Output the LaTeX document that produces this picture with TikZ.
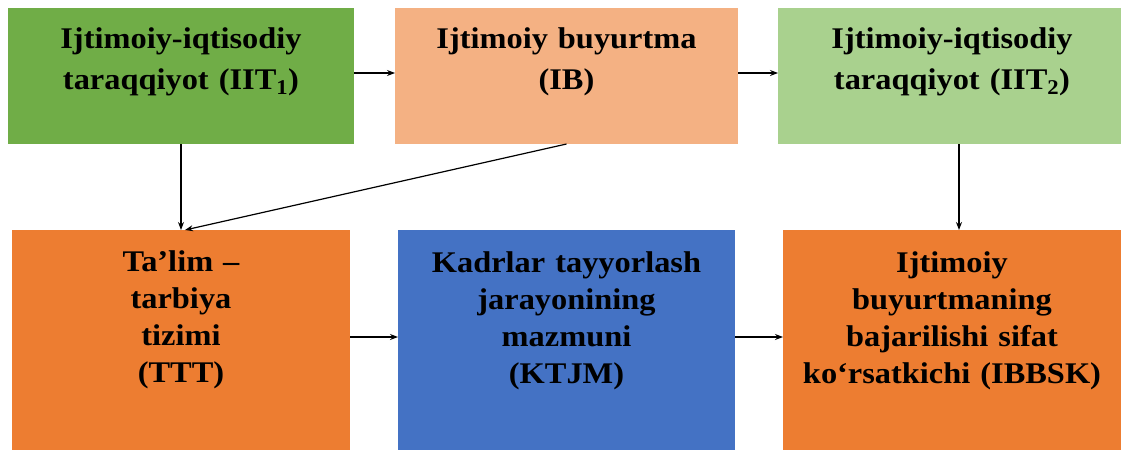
\documentclass[tikz,border=0pt]{standalone}
\usepackage{fontspec}
\setmainfont{Liberation Serif}[FakeStretch=1.08]
\usetikzlibrary{arrows.meta}
\definecolor{cgreen}{HTML}{70AD47}
\definecolor{csalmon}{HTML}{F4B183}
\definecolor{clgreen}{HTML}{A9D18E}
\definecolor{corange}{HTML}{ED7D31}
\definecolor{cblue}{HTML}{4472C4}
\tikzset{
  box/.style={draw=none, inner sep=0pt, outer sep=0pt},
  toptxt/.style={anchor=north, inner sep=0pt, align=center, text width=340pt,
    font=\fontsize{30}{41}\selectfont\bfseries},
  bottxt/.style={anchor=north, inner sep=0pt, align=center, text width=340pt,
    font=\fontsize{30}{37.3}\selectfont\bfseries},
  arr/.style={draw=black, line width=1.2pt, -{Stealth[length=8pt,width=6pt]}}
}
\begin{document}
\begin{tikzpicture}[x=1pt,y=-1pt]
\useasboundingbox (0,0) rectangle (1121,450);
\clip (0,0) rectangle (1121,450);
% top row
\node[box, fill=cgreen, minimum width=346pt, minimum height=136pt] (b1) at (181,76) {};
\node[box, fill=csalmon, minimum width=343pt, minimum height=136pt] (b2) at (566.5,76) {};
\node[box, fill=clgreen, minimum width=348pt, minimum height=136pt] (b3) at (952,76) {};
% bottom row
\node[box, fill=corange, minimum width=338pt, minimum height=220pt] (b4) at (181,340) {};
\node[box, fill=cblue, minimum width=337pt, minimum height=220pt] (b5) at (566.5,340) {};
\node[box, fill=corange, minimum width=338pt, minimum height=220pt] (b6) at (952,340) {};
% texts
\node[toptxt] (t1) at ([yshift=-19pt]b1.north) {Ijtimoiy-iqtisodiy\\taraqqiyot (IIT\textsubscript{1})};
\node[toptxt] (t2) at ([yshift=-19pt]b2.north) {Ijtimoiy buyurtma\\(IB)};
\node[toptxt] (t3) at ([yshift=-19pt]b3.north) {Ijtimoiy-iqtisodiy\\taraqqiyot (IIT\textsubscript{2})};
\node[bottxt] (t4) at ([yshift=-20pt]b4.north) {Ta’lim –\\tarbiya\\tizimi\\(TTT)};
\node[bottxt] (t5) at ([yshift=-21pt]b5.north) {Kadrlar tayyorlash\\jarayonining\\mazmuni\\(KTJM)};
\node[bottxt] (t6) at ([yshift=-21pt]b6.north) {Ijtimoiy\\buyurtmaning\\bajarilishi sifat\\ko‘rsatkichi (IBBSK)};
% connectors
\draw[arr] ([yshift=3pt]b1.east) -- ([yshift=3pt]b2.west);
\draw[arr] ([yshift=3pt]b2.east) -- ([yshift=3pt]b3.west);
\draw[arr] (b1.south) -- (b4.north);
\draw[arr] (b2.south) -- ([xshift=4pt]b4.north);
\draw[arr] ([xshift=7pt]b3.south) -- ([xshift=7pt]b6.north);
\draw[arr] ([yshift=3pt]b4.east) -- ([yshift=3pt]b5.west);
\draw[arr] ([yshift=3pt]b5.east) -- ([yshift=3pt]b6.west);
\end{tikzpicture}
\end{document}
